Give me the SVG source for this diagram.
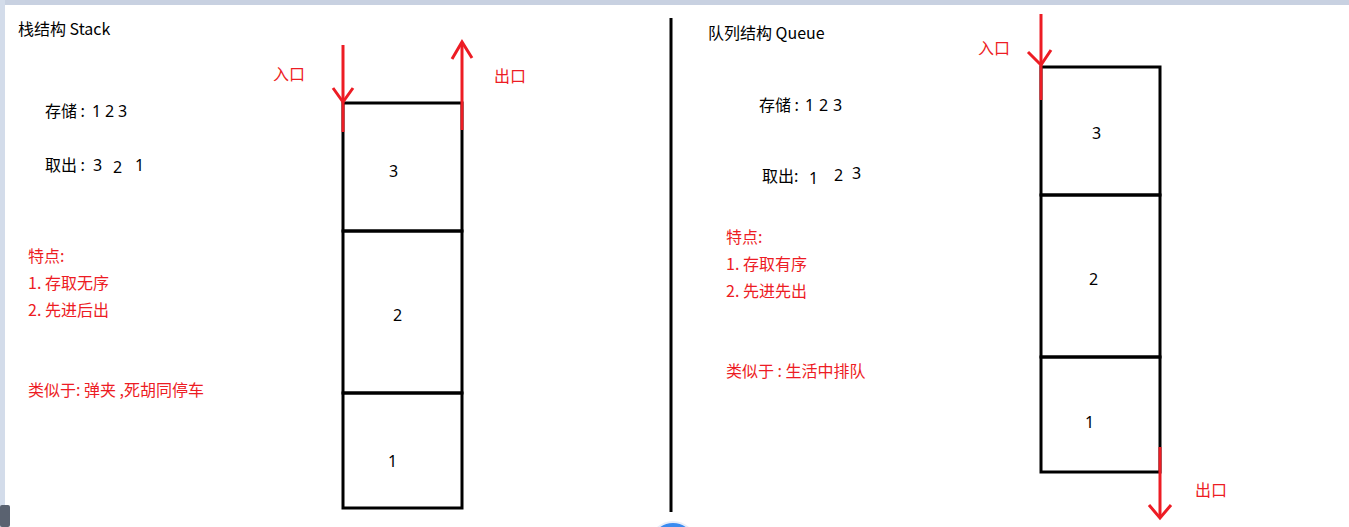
<svg xmlns="http://www.w3.org/2000/svg" width="1349" height="527" viewBox="0 0 1349 527">
<style>
.t{font-family:"Noto Sans CJK SC","Microsoft YaHei","Noto Sans",sans-serif;font-size:16px;fill:#000}
.r{fill:#ed1c24}
.n{font-family:"Noto Sans","Liberation Sans",sans-serif;font-size:16px;fill:#000}
.cell{fill:none;stroke:#000;stroke-width:3}
.red{fill:none;stroke:#ed1c24;stroke-width:3}
.blk{fill:none;stroke:#000;stroke-width:3}
</style>
<rect x="0" y="0" width="1349" height="527" fill="#fff"/>
<rect x="0" y="0" width="1349" height="5" fill="#c8d1e1"/>
<rect x="0" y="0" width="5" height="527" fill="#d3dcea"/>
<rect x="0" y="505" width="10" height="22" rx="2" fill="#5a6270"/>
<circle cx="673" cy="545" r="23" fill="#3a8bf0" stroke="#e6eefb" stroke-width="2"/>

<g id="stack">
  <text class="t" x="18" y="35">栈结构 Stack</text>
  <text class="t" x="45" y="117">存储 : <tspan class="n" x="92">1</tspan><tspan class="n" x="105">2</tspan><tspan class="n" x="118">3</tspan></text>
  <text class="t" x="45" y="171">取出 : <tspan class="n" x="93" y="171">3</tspan><tspan class="n" x="113" y="173">2</tspan><tspan class="n" x="135" y="171">1</tspan></text>
  <text class="t r" x="28" y="262">特点:</text>
  <text class="t r" x="28" y="289">1. 存取无序</text>
  <text class="t r" x="28" y="316">2. 先进后出</text>
  <text class="t r" x="28" y="396">类似于: 弹夹 ,死胡同停车</text>
</g>
<g id="stack-cell-3"><rect class="cell" x="343" y="103" width="119" height="128"/><text class="n" x="389" y="177">3</text></g>
<g id="stack-cell-2"><rect class="cell" x="343" y="231" width="119" height="162"/><text class="n" x="393" y="321">2</text></g>
<g id="stack-cell-1"><rect class="cell" x="343" y="393" width="119" height="115"/><text class="n" x="388" y="467">1</text></g>

<g id="divider"><line class="blk" x1="671" y1="18" x2="671" y2="512"/></g>

<g id="queue">
  <text class="t" x="708" y="39">队列结构 Queue</text>
  <text class="t" x="759" y="111">存储 : <tspan class="n" x="805">1</tspan><tspan class="n" x="819">2</tspan><tspan class="n" x="833">3</tspan></text>
  <text class="t" x="762" y="182">取出: <tspan class="n" x="809" y="184">1</tspan><tspan class="n" x="834" y="181">2</tspan><tspan class="n" x="852" y="179">3</tspan></text>
  <text class="t r" x="726" y="243">特点:</text>
  <text class="t r" x="726" y="270">1. 存取有序</text>
  <text class="t r" x="726" y="297">2. 先进先出</text>
  <text class="t r" x="726" y="377">类似于 : 生活中排队</text>
</g>
<g id="queue-cell-3"><rect class="cell" x="1041" y="67" width="119" height="128"/><text class="n" x="1092" y="139">3</text></g>
<g id="queue-cell-2"><rect class="cell" x="1041" y="195" width="119" height="162"/><text class="n" x="1089" y="285">2</text></g>
<g id="queue-cell-1"><rect class="cell" x="1041" y="357" width="119" height="115"/><text class="n" x="1085" y="428" fill="#102a55">1</text></g>

<g id="connectors">
  <line class="red" x1="343" y1="45" x2="343" y2="132"/>
  <polyline class="red" points="333,88 343,102 353,88"/>
  <line class="red" x1="462" y1="42" x2="462" y2="130"/>
  <polyline class="red" points="452,59 462,42 472,58"/>
  <line class="red" x1="1041" y1="14" x2="1041" y2="100"/>
  <polyline class="red" points="1028,52 1041,65 1051,50"/>
  <line class="red" x1="1160" y1="447" x2="1160" y2="517"/>
  <polyline class="red" points="1149,505 1160,518 1171,505"/>
  <text class="t r" x="273" y="80" font-size="16">入口</text>
  <text class="t r" x="494" y="82" font-size="16">出口</text>
  <text class="t r" x="978" y="54" font-size="16">入口</text>
  <text class="t r" x="1195" y="496" font-size="16">出口</text>
</g>
</svg>
